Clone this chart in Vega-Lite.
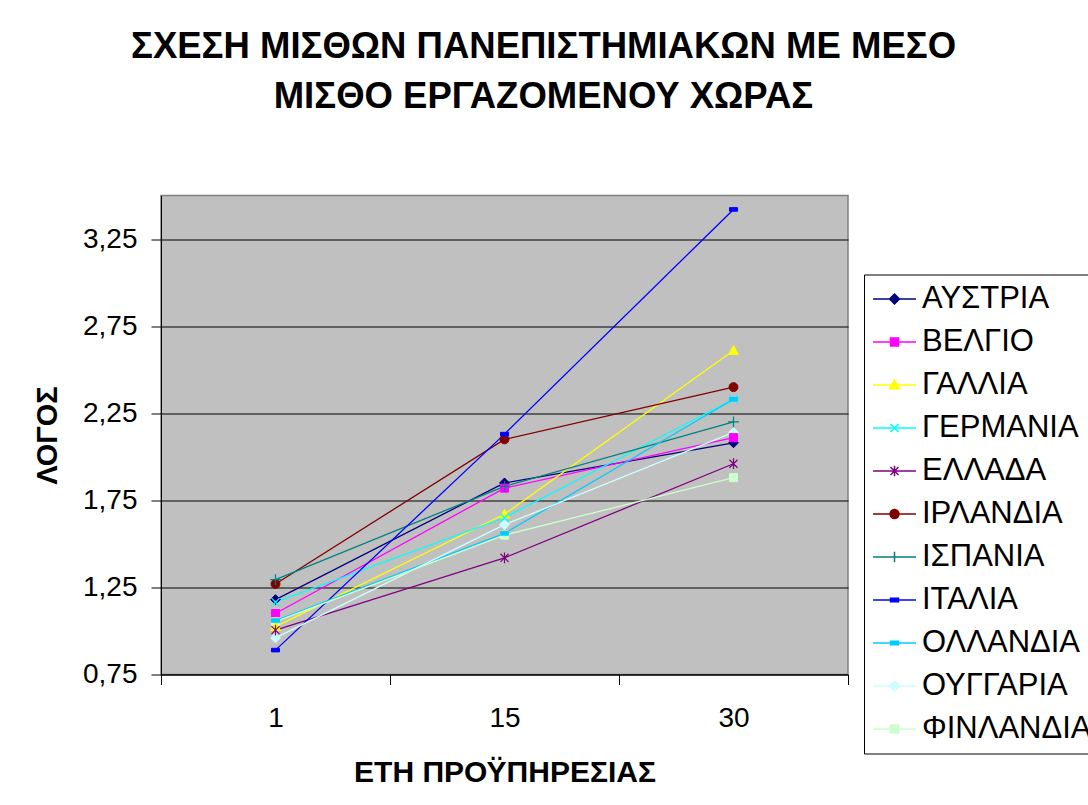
{
  "$schema": "https://vega.github.io/schema/vega-lite/v6.json",
  "width": 687,
  "height": 479,
  "autosize": {"type": "none"},
  "padding": {"left": 161, "top": 195.5, "right": 240, "bottom": 130.5},
  "background": "white",
  "title": {
    "text": ["ΣΧΕΣΗ ΜΙΣΘΩΝ ΠΑΝΕΠΙΣΤΗΜΙΑΚΩΝ ΜΕ ΜΕΣΟ", "ΜΙΣΘΟ ΕΡΓΑΖΟΜΕΝΟΥ ΧΩΡΑΣ"],
    "font": "Liberation Sans",
    "fontSize": 36.5,
    "fontWeight": "bold",
    "color": "black",
    "lineHeight": 50,
    "anchor": "middle",
    "dx": 39,
    "offset": 80
  },
  "data": {
    "values": [
      {"country": "ΑΥΣΤΡΙΑ", "years": "1", "ratio": 1.18},
      {"country": "ΑΥΣΤΡΙΑ", "years": "15", "ratio": 1.85},
      {"country": "ΑΥΣΤΡΙΑ", "years": "30", "ratio": 2.08},
      {"country": "ΒΕΛΓΙΟ", "years": "1", "ratio": 1.10},
      {"country": "ΒΕΛΓΙΟ", "years": "15", "ratio": 1.82},
      {"country": "ΒΕΛΓΙΟ", "years": "30", "ratio": 2.11},
      {"country": "ΓΑΛΛΙΑ", "years": "1", "ratio": 1.025},
      {"country": "ΓΑΛΛΙΑ", "years": "15", "ratio": 1.67},
      {"country": "ΓΑΛΛΙΑ", "years": "30", "ratio": 2.61},
      {"country": "ΓΕΡΜΑΝΙΑ", "years": "1", "ratio": 1.165},
      {"country": "ΓΕΡΜΑΝΙΑ", "years": "15", "ratio": 1.65},
      {"country": "ΓΕΡΜΑΝΙΑ", "years": "30", "ratio": 2.33},
      {"country": "ΕΛΛΑΔΑ", "years": "1", "ratio": 1.005},
      {"country": "ΕΛΛΑΔΑ", "years": "15", "ratio": 1.42},
      {"country": "ΕΛΛΑΔΑ", "years": "30", "ratio": 1.96},
      {"country": "ΙΡΛΑΝΔΙΑ", "years": "1", "ratio": 1.27},
      {"country": "ΙΡΛΑΝΔΙΑ", "years": "15", "ratio": 2.10},
      {"country": "ΙΡΛΑΝΔΙΑ", "years": "30", "ratio": 2.40},
      {"country": "ΙΣΠΑΝΙΑ", "years": "1", "ratio": 1.295},
      {"country": "ΙΣΠΑΝΙΑ", "years": "15", "ratio": 1.83},
      {"country": "ΙΣΠΑΝΙΑ", "years": "30", "ratio": 2.20},
      {"country": "ΙΤΑΛΙΑ", "years": "1", "ratio": 0.89},
      {"country": "ΙΤΑΛΙΑ", "years": "15", "ratio": 2.13},
      {"country": "ΙΤΑΛΙΑ", "years": "30", "ratio": 3.42},
      {"country": "ΟΛΛΑΝΔΙΑ", "years": "1", "ratio": 1.06},
      {"country": "ΟΛΛΑΝΔΙΑ", "years": "15", "ratio": 1.56},
      {"country": "ΟΛΛΑΝΔΙΑ", "years": "30", "ratio": 2.33},
      {"country": "ΟΥΓΓΑΡΙΑ", "years": "1", "ratio": 0.96},
      {"country": "ΟΥΓΓΑΡΙΑ", "years": "15", "ratio": 1.61},
      {"country": "ΟΥΓΓΑΡΙΑ", "years": "30", "ratio": 2.14},
      {"country": "ΦΙΝΛΑΝΔΙΑ", "years": "1", "ratio": 1.053},
      {"country": "ΦΙΝΛΑΝΔΙΑ", "years": "15", "ratio": 1.55},
      {"country": "ΦΙΝΛΑΝΔΙΑ", "years": "30", "ratio": 1.88}
    ]
  },
  "encoding": {
    "x": {
      "field": "years",
      "type": "nominal",
      "sort": ["1", "15", "30"],
      "scale": {"type": "band", "domain": ["1", "15", "30"], "paddingInner": 0, "paddingOuter": 0},
      "axis": {
        "title": "ΕΤΗ ΠΡΟΫΠΗΡΕΣΙΑΣ",
        "tickBand": "extent",
        "labelAngle": 0,
        "grid": false,
        "tickSize": 10,
        "tickColor": "black",
        "domainColor": "black",
        "labelFontSize": 28,
        "labelColor": "black",
        "labelPadding": 20,
        "titleFontSize": 30,
        "titleFontWeight": "bold",
        "titleColor": "black",
        "titlePadding": 25
      }
    },
    "y": {
      "field": "ratio",
      "type": "quantitative",
      "scale": {"domain": [0.75, 3.5], "nice": false, "zero": false},
      "axis": {
        "title": "ΛΟΓΟΣ",
        "values": [0.75, 1.25, 1.75, 2.25, 2.75, 3.25],
        "labelExpr": "replace(format(datum.value, '.2f'), '.', ',')",
        "grid": true,
        "gridColor": "black",
        "gridWidth": 1,
        "gridOpacity": 1,
        "tickSize": 10,
        "tickColor": "black",
        "domainColor": "black",
        "labelFontSize": 28,
        "labelColor": "black",
        "labelPadding": 14,
        "titleFontSize": 29,
        "titleFontWeight": "bold",
        "titleColor": "black",
        "titlePadding": 20
      }
    },
    "color": {
      "field": "country",
      "type": "nominal",
      "legend": {"title": null},
      "scale": {
        "domain": ["ΑΥΣΤΡΙΑ", "ΒΕΛΓΙΟ", "ΓΑΛΛΙΑ", "ΓΕΡΜΑΝΙΑ", "ΕΛΛΑΔΑ", "ΙΡΛΑΝΔΙΑ", "ΙΣΠΑΝΙΑ", "ΙΤΑΛΙΑ", "ΟΛΛΑΝΔΙΑ", "ΟΥΓΓΑΡΙΑ", "ΦΙΝΛΑΝΔΙΑ"],
        "range": ["#000080", "#FF00FF", "#FFFF00", "#00FFFF", "#800080", "#800000", "#008080", "#0000FF", "#00CCFF", "#CCFFFF", "#CCFFCC"]
      }
    }
  },
  "layer": [
    {
      "mark": {"type": "line", "strokeWidth": 1.3},
      "encoding": {"detail": {"field": "country"}}
    },
    {
      "transform": [{"filter": {"field": "country", "oneOf": ["ΑΥΣΤΡΙΑ", "ΟΥΓΓΑΡΙΑ"]}}],
      "mark": {"type": "point", "filled": true, "size": 80, "strokeWidth": 1, "opacity": 1, "shape": "M0,-1.1L1.1,0L0,1.1L-1.1,0Z"},
      "encoding": {"stroke": {"field": "country", "type": "nominal", "legend": {"title": null}, "scale": {"domain": ["ΑΥΣΤΡΙΑ", "ΒΕΛΓΙΟ", "ΓΑΛΛΙΑ", "ΓΕΡΜΑΝΙΑ", "ΕΛΛΑΔΑ", "ΙΡΛΑΝΔΙΑ", "ΙΣΠΑΝΙΑ", "ΙΤΑΛΙΑ", "ΟΛΛΑΝΔΙΑ", "ΟΥΓΓΑΡΙΑ", "ΦΙΝΛΑΝΔΙΑ"], "range": ["#000080", "#FF00FF", "#FFFF00", "#00FFFF", "#800080", "#800000", "#008080", "#0000FF", "#00CCFF", "#CCFFFF", "#CCFFCC"]}}}
    },
    {
      "transform": [{"filter": {"field": "country", "oneOf": ["ΒΕΛΓΙΟ", "ΦΙΝΛΑΝΔΙΑ"]}}],
      "mark": {"type": "point", "filled": true, "size": 80, "strokeWidth": 1, "opacity": 1, "shape": "M-0.9,-0.9H0.9V0.9H-0.9Z"},
      "encoding": {"stroke": {"field": "country", "type": "nominal", "legend": {"title": null}}}
    },
    {
      "transform": [{"filter": {"field": "country", "oneOf": ["ΓΑΛΛΙΑ"]}}],
      "mark": {"type": "point", "filled": true, "size": 80, "strokeWidth": 1, "opacity": 1, "shape": "M0,-1.1L1.1,0.85H-1.1Z"},
      "encoding": {"stroke": {"field": "country", "type": "nominal", "legend": {"title": null}}}
    },
    {
      "transform": [{"filter": {"field": "country", "oneOf": ["ΓΕΡΜΑΝΙΑ"]}}],
      "mark": {"type": "point", "filled": true, "size": 80, "strokeWidth": 1.2, "opacity": 1, "shape": "M-0.9,-0.9L0.9,0.9M-0.9,0.9L0.9,-0.9"},
      "encoding": {"stroke": {"field": "country", "type": "nominal", "legend": {"title": null}}}
    },
    {
      "transform": [{"filter": {"field": "country", "oneOf": ["ΕΛΛΑΔΑ"]}}],
      "mark": {"type": "point", "filled": true, "size": 80, "strokeWidth": 1.2, "opacity": 1, "shape": "M-0.9,-0.9L0.9,0.9M-0.9,0.9L0.9,-0.9M0,-1.2V1.2"},
      "encoding": {"stroke": {"field": "country", "type": "nominal", "legend": {"title": null}}}
    },
    {
      "transform": [{"filter": {"field": "country", "oneOf": ["ΙΡΛΑΝΔΙΑ"]}}],
      "mark": {"type": "point", "filled": true, "size": 80, "strokeWidth": 1, "opacity": 1, "shape": "circle"},
      "encoding": {"stroke": {"field": "country", "type": "nominal", "legend": {"title": null}}}
    },
    {
      "transform": [{"filter": {"field": "country", "oneOf": ["ΙΣΠΑΝΙΑ"]}}],
      "mark": {"type": "point", "filled": true, "size": 80, "strokeWidth": 1.2, "opacity": 1, "shape": "M-1.2,0H1.2M0,-1.2V1.2"},
      "encoding": {"stroke": {"field": "country", "type": "nominal", "legend": {"title": null}}}
    },
    {
      "transform": [{"filter": {"field": "country", "oneOf": ["ΙΤΑΛΙΑ", "ΟΛΛΑΝΔΙΑ"]}}],
      "mark": {"type": "point", "filled": true, "size": 80, "strokeWidth": 1, "opacity": 1, "shape": "M-0.9,-0.4H0.9V0.4H-0.9Z"},
      "encoding": {"stroke": {"field": "country", "type": "nominal", "legend": {"title": null}}}
    },
    {
      "mark": {"type": "point", "filled": true, "size": 80, "opacity": 0},
      "encoding": {
        "stroke": {"field": "country", "type": "nominal", "legend": {"title": null}},
        "shape": {
          "field": "country",
          "type": "nominal",
          "scale": {
            "domain": ["ΑΥΣΤΡΙΑ", "ΒΕΛΓΙΟ", "ΓΑΛΛΙΑ", "ΓΕΡΜΑΝΙΑ", "ΕΛΛΑΔΑ", "ΙΡΛΑΝΔΙΑ", "ΙΣΠΑΝΙΑ", "ΙΤΑΛΙΑ", "ΟΛΛΑΝΔΙΑ", "ΟΥΓΓΑΡΙΑ", "ΦΙΝΛΑΝΔΙΑ"],
            "range": [
              "M-4.8,0H4.8M0,-1.1L1.1,0L0,1.1L-1.1,0Z",
              "M-4.8,0H4.8M-0.9,-0.9H0.9V0.9H-0.9Z",
              "M-4.8,0H4.8M0,-1.1L1.1,0.85H-1.1Z",
              "M-4.8,0H4.8M-0.9,-0.9L0.9,0.9M-0.9,0.9L0.9,-0.9",
              "M-4.8,0H4.8M-0.9,-0.9L0.9,0.9M-0.9,0.9L0.9,-0.9M0,-1.2V1.2",
              "M-4.8,0H4.8M1,0A1,1 0 1,1 -1,0A1,1 0 1,1 1,0Z",
              "M-4.8,0H4.8M0,-1.2V1.2",
              "M-4.8,0H4.8M-0.9,-0.4H0.9V0.4H-0.9Z",
              "M-4.8,0H4.8M-0.9,-0.4H0.9V0.4H-0.9Z",
              "M-4.8,0H4.8M0,-1.1L1.1,0L0,1.1L-1.1,0Z",
              "M-4.8,0H4.8M-0.9,-0.9H0.9V0.9H-0.9Z"
            ]
          },
          "legend": {
            "title": null,
            "orient": "none",
            "legendX": 703,
            "legendY": 79,
            "strokeColor": "black",
            "fillColor": "white",
            "padding": 9,
            "rowPadding": 11,
            "symbolSize": 80,
            "symbolOffset": 6,
            "symbolStrokeWidth": 1.5,
            "symbolOpacity": 1,
            "labelOffset": 12,
            "labelFontSize": 31,
            "labelColor": "black",
            "labelLimit": 400
          }
        }
      }
    }
  ],
  "config": {
    "font": "Liberation Sans",
    "view": {"fill": "#C0C0C0", "stroke": "#808080", "strokeWidth": 1.5},
    "axis": {"domainWidth": 1, "tickWidth": 1}
  }
}
